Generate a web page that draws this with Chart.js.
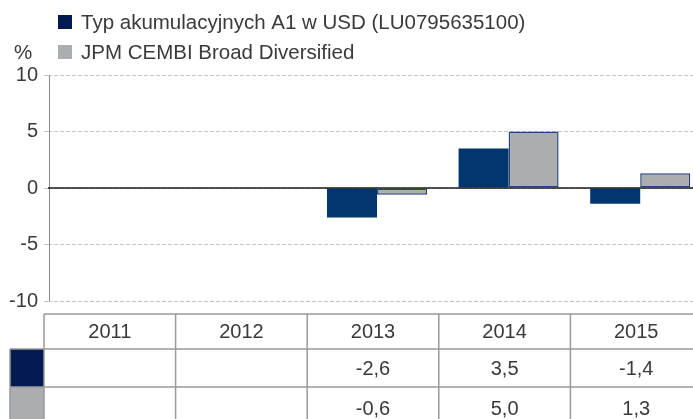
<!DOCTYPE html>
<html>
<head>
<meta charset="utf-8">
<script src="https://cdn.jsdelivr.net/npm/chart.js@4/dist/chart.umd.min.js"></script>
<style>
    html, body { margin: 0; padding: 0; background: #fff; overflow: hidden; }
    #wrap { width: 693px; height: 419px; overflow: hidden; position: relative; }
    canvas { display: block; }
</style>
</head>
<body>
<div id="wrap"><canvas id="barChart" width="706" height="419"></canvas></div>
<script>
// data
const years = ["2011", "2012", "2013", "2014", "2015"];
const fundValues = [null, null, -2.6, 3.5, -1.4];
const indexValues = [null, null, -0.6, 5.0, 1.3];
const seriesNames = ["Typ akumulacyjnych A1 w USD (LU0795635100)", "JPM CEMBI Broad Diversified"];
const yTicks = [-10, -5, 0, 5, 10];

const FONT = '"Liberation Sans", Arial, sans-serif';
const TEXT = '#3a3a3a';
const navyBar = '#03366f';
const navyDark = '#021a50';
const grayBar = '#abadb1';

function fmt(v) {
    if (v === null) return '';
    return v.toFixed(1).replace('.', ',');
}

// legend, axis line, zero line and the data table under the chart
const extras = {
    id: 'extras',
    afterDatasetsDraw(chart) {
        const ctx = chart.ctx;
        const y = chart.scales.y;
        const area = chart.chartArea;

        ctx.save();
        // solid vertical axis
        ctx.strokeStyle = '#8a8a8a';
        ctx.lineWidth = 1;
        ctx.beginPath();
        ctx.moveTo(area.left + 1.5, area.top);
        ctx.lineTo(area.left + 1.5, area.bottom);
        ctx.stroke();

        // zero line
        ctx.strokeStyle = '#1a1a1a';
        ctx.lineWidth = 1.5;
        ctx.beginPath();
        ctx.moveTo(area.left, y.getPixelForValue(0));
        ctx.lineTo(area.right, y.getPixelForValue(0));
        ctx.stroke();
        ctx.restore();
    },
    afterDraw(chart) {
        const ctx = chart.ctx;
        const x = chart.scales.x;
        ctx.save();

        // legend
        const swatches = [navyDark, grayBar];
        ctx.font = '20.5px ' + FONT;
        ctx.textBaseline = 'middle';
        ctx.textAlign = 'left';
        for (let i = 0; i < seriesNames.length; i++) {
            const ly = 22 + i * 30;
            ctx.fillStyle = swatches[i];
            ctx.fillRect(58, ly - 7, 14, 14);
            ctx.fillStyle = TEXT;
            ctx.fillText(seriesNames[i], 81, ly + 1);
        }
        ctx.fillText('%', 14, 53);

        // table
        ctx.font = '20px ' + FONT;
        const band = x.getPixelForValue(1) - x.getPixelForValue(0);
        const edge = i => x.getPixelForValue(i) - band / 2 - 4;
        const rowsY = [314, 349, 387, 430];
        const rows = [fundValues, indexValues];

        // swatch cells
        ctx.fillStyle = navyDark;
        ctx.fillRect(10, rowsY[1], edge(0) - 10, rowsY[2] - rowsY[1]);
        ctx.fillStyle = grayBar;
        ctx.fillRect(10, rowsY[2], edge(0) - 10, rowsY[3] - rowsY[2]);

        ctx.strokeStyle = '#9a9a9a';
        ctx.lineWidth = 1.5;
        ctx.beginPath();
        // horizontal lines
        ctx.moveTo(edge(0), rowsY[0]);
        ctx.lineTo(edge(years.length), rowsY[0]);
        for (let r = 1; r < 3; r++) {
            ctx.moveTo(10, rowsY[r]);
            ctx.lineTo(edge(years.length), rowsY[r]);
        }
        // vertical lines
        for (let i = 0; i <= years.length; i++) {
            ctx.moveTo(edge(i), rowsY[0]);
            ctx.lineTo(edge(i), rowsY[3]);
        }
        ctx.moveTo(10, rowsY[1]);
        ctx.lineTo(10, rowsY[3]);
        ctx.stroke();

        ctx.fillStyle = TEXT;
        ctx.textAlign = 'center';
        for (let i = 0; i < years.length; i++) {
            const cx = (edge(i) + edge(i + 1)) / 2;
            ctx.fillText(years[i], cx, (rowsY[0] + rowsY[1]) / 2 + 1);
            for (let r = 0; r < rows.length; r++) {
                ctx.fillText(fmt(rows[r][i]), cx, (rowsY[r + 1] + rowsY[r + 2]) / 2 + 1);
            }
        }
        ctx.restore();
    }
};

const barData = {
    labels: years,
    datasets: [{
        label: seriesNames[0],
        data: fundValues,
        backgroundColor: navyBar,
        borderColor: navyBar,
        borderWidth: 0,
        categoryPercentage: 0.76,
        barPercentage: 1.0,
    }, {
        label: seriesNames[1],
        data: indexValues,
        backgroundColor: grayBar,
        borderColor: '#23467a',
        borderWidth: 1.5,
        borderSkipped: false,
        categoryPercentage: 0.76,
        barPercentage: 1.0,
    }]
};

const options = {
    responsive: false,
    maintainAspectRatio: false,
    animation: false,
    devicePixelRatio: 1,
    layout: {
        padding: { top: 75, bottom: 118, left: 0, right: 0 }
    },
    plugins: {
        legend: { display: false },
        tooltip: { enabled: false },
    },
    scales: {
        x: {
            display: false,
        },
        y: {
            min: -10,
            max: 10,
            afterBuildTicks: scale => {
                scale.ticks = yTicks.map(v => ({ value: v }));
            },
            afterFit: scale => {
                scale.width = 48;
            },
            grid: {
                color: '#c4c4c4',
                lineWidth: 1,
                tickLength: 4,
                tickColor: '#c4c4c4',
            },
            border: {
                display: false,
                dash: [4, 2],
            },
            ticks: {
                color: TEXT,
                padding: 6,
                font: { family: FONT, size: 20 },
            },
        },
    },
};

const bar = document.getElementById('barChart').getContext('2d');

const existingChart = Chart.getChart('barChart');
if (existingChart) {
    existingChart.destroy();
}

const myChart = new Chart(bar, {
    type: 'bar',
    data: barData,
    options: options,
    plugins: [extras],
});
</script>
</body>
</html>
